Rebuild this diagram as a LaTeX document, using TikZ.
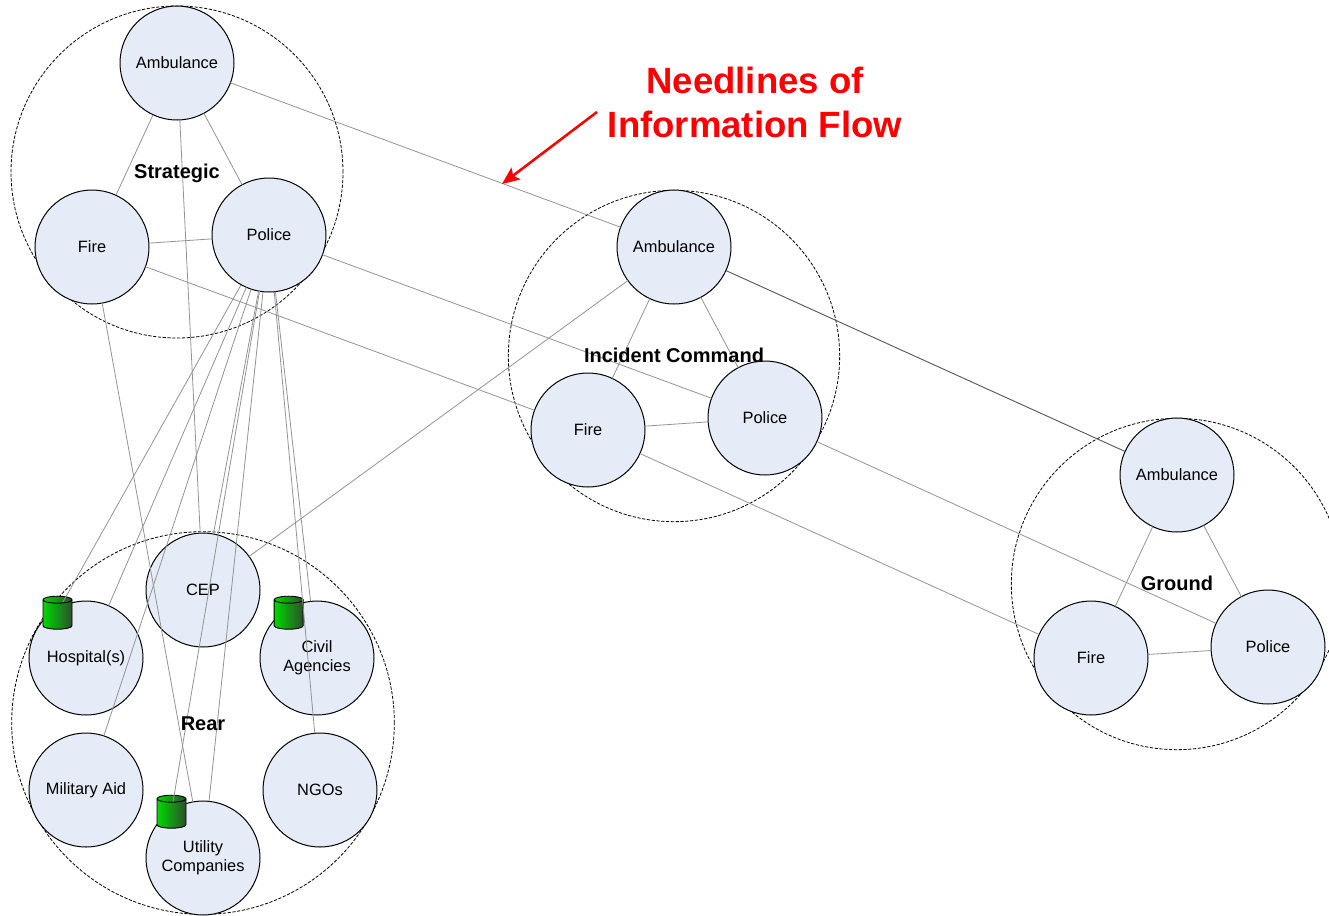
\documentclass[tikz,border=0pt]{standalone}
\usepackage{fontspec}
\setmainfont{Liberation Sans}
\usetikzlibrary{arrows.meta}
\definecolor{nodefill}{HTML}{E6ECF7}
\definecolor{linkgray}{HTML}{939393}
\definecolor{dbleft}{HTML}{00D800}
\definecolor{dbright}{HTML}{2C4F2C}
\tikzset{
  org/.style={circle,draw=black,line width=0.75pt,fill=nodefill,minimum size=85.5pt,inner sep=0pt,outer sep=0pt,align=center,font=\fontsize{12.3}{14.25}\selectfont},
  zone/.style={circle,draw=black,line width=0.6pt,dash pattern=on 2.4pt off 1.2pt,inner sep=0pt,outer sep=0pt},
  zonelabel/.style={font=\fontsize{15}{18}\selectfont\bfseries},
  link/.style={draw=linkgray,line width=0.6pt},
  darklink/.style={draw=black!65,line width=0.7pt},
  dbcyl/.pic={
    \path[left color=dbleft,right color=dbright,draw=black,line width=0.7pt]
      (-14.5,-13) -- (-14.5,13) arc (180:0:14.5 and 3.5) -- (14.5,-13) arc (0:-180:14.5 and 3.5) -- cycle;
    \draw[black,line width=0.7pt] (-14.5,-13) arc (180:0:14.5 and 3.5);
  },
}
\begin{document}
\begin{tikzpicture}[x=0.75pt,y=-0.75pt]
\useasboundingbox (0,0) rectangle (1329,915);
\clip (0,0) rectangle (1329,915);
% zones
\node[zone,minimum size=249pt] (zs) at (177,172) {};
\node[zone,minimum size=248.5pt] (zi) at (674,356) {};
\node[zone,minimum size=248.5pt] (zg) at (1177,584) {};
\node[zone,minimum size=287pt] (zr) at (203,723) {};
% strategic
\node[org] (sa) at (177,63) {Ambulance};
\node[org] (sf) at (92,247) {Fire};
\node[org] (sp) at (269,235) {Police};
% incident command
\node[org] (ia) at (674,247) {Ambulance};
\node[org] (if) at (588,430) {Fire};
\node[org] (ip) at (765,418) {Police};
% ground
\node[org] (ga) at (1177,475) {Ambulance};
\node[org] (gf) at (1091,658) {Fire};
\node[org] (gp) at (1268,647) {Police};
% rear
\node[org] (cep) at (203,590) {CEP};
\node[org] (hos) at (86,658) {Hospital(s)};
\node[org] (civ) at (317,658) {Civil\\Agencies};
\node[org] (mil) at (86,790) {Military Aid};
\node[org] (ngo) at (320,790) {NGOs};
\node[org] (uti) at (203,858) {Utility\\Companies};
% databases
\pic at (57.5,612.7) {dbcyl};
\pic at (288.7,612.7) {dbcyl};
\pic at (171.5,811.7) {dbcyl};
\coordinate (dh) at (63,602);
\coordinate (du) at (173,802);
% connectors
\draw[link] (sa) -- (sf);
\draw[link] (sa) -- (sp);
\draw[link] (sf) -- (sp);
\draw[link] (ia) -- (if);
\draw[link] (ia) -- (ip);
\draw[link] (if) -- (ip);
\draw[link] (ga) -- (gf);
\draw[link] (ga) -- (gp);
\draw[link] (gf) -- (gp);
\draw[link] (sa) -- (ia);
\draw[link] (sf) -- (if);
\draw[link] (sp) -- (ip);
\draw[darklink] (ia) -- (ga);
\draw[link] (if) -- (gf);
\draw[link] (ip) -- (gp);
\draw[link] (cep) -- (ia);
\draw[link] (sa) -- (cep);
\draw[link] (sf) -- (uti);
\draw[link] (sp) -- (dh);
\draw[link] (sp) -- (hos);
\draw[link] (sp) -- (mil);
\draw[link] (sp) -- (cep);
\draw[link] (sp) -- (du);
\draw[link] (sp) -- (uti);
\draw[link] (sp) -- (civ);
\draw[link] (sp) -- (ngo);
% zone labels
\node[zonelabel] (ls) at (177,173.5) {Strategic};
\node[zonelabel] (li) at (674,355.5) {Incident Command};
\node[zonelabel] (lg) at (1177,583) {Ground};
\node[zonelabel] (lr) at (203,723.5) {Rear};
% annotation
\node[text=red,align=center,font=\fontsize{27.4}{33}\selectfont\bfseries] (note) at (755,102) {Needlines of\\Information Flow};
\coordinate (as) at (597,112);
\coordinate (ae) at (502,184);
\draw[red,line width=1.9pt,-{Stealth[length=13pt,width=11pt,inset=2.5pt]}] (as) -- (ae);
\end{tikzpicture}
\end{document}
